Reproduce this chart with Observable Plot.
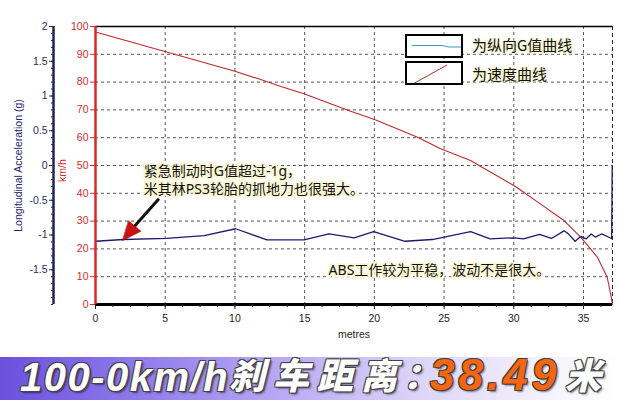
<!DOCTYPE html>
<html><head><meta charset="utf-8">
<script src="https://cdn.jsdelivr.net/npm/d3@7"></script>
<script src="https://cdn.jsdelivr.net/npm/@observablehq/plot@0.6"></script>
<style>
body{margin:0;background:#fff;}
#wrap{position:relative;width:620px;height:400px;overflow:hidden;background:#fff;font-family:"Liberation Sans",Arial,sans-serif;}
#chart svg{display:block;}
.lbox{position:absolute;left:405px;width:54px;height:20px;border:2px solid #000;background:#fff;}
.lbox svg{position:absolute;left:0;top:0;}
.ltext{position:absolute;left:472px;font-family:"Noto Sans CJK SC",sans-serif;font-size:15px;line-height:18px;color:#111;
  text-shadow:0 0 3px #f6f1c0,0 0 3px #f6f1c0,0 0 2px #f6f1c0;}
#banner{position:absolute;left:0;top:357px;width:620px;height:43px;
  background:linear-gradient(90deg,#6a50de 0%,#8f7aea 22%,#b7a9f3 45%,#dcd5f8 68%,#f4f2fb 88%,#ffffff 100%);
  white-space:nowrap;}
#banner div{position:absolute;font-style:italic;font-weight:bold;color:#fff;
  text-shadow:-1px -1px 0 #444,1px -1px 0 #444,-1px 1px 0 #444,1px 1px 0 #444,2px 2px 2px rgba(0,0,0,.5);}
#banner .w{left:20px;top:0px;line-height:40px;font-family:"Liberation Sans",Arial,sans-serif;font-size:40px;letter-spacing:1.5px;}
#banner .c{top:-2px;line-height:36px;font-family:"Noto Sans CJK SC",sans-serif;font-size:36px;font-weight:900;letter-spacing:8px;}
#banner .o{left:430px;top:-4px;line-height:44px;font-family:"Liberation Sans",Arial,sans-serif;font-size:44px;color:#f7650f;letter-spacing:4px;}
</style></head><body>
<div id="wrap">
  <div id="chart"></div>
  <div class="lbox" style="top:34px"><svg width="54" height="20"><polyline points="5,9.5 35,9.5 42,11 54,11" fill="none" stroke="#3a98cc" stroke-width="1"/></svg></div>
  <div class="lbox" style="top:61px"><svg width="54" height="20"><line x1="4" y1="22" x2="40" y2="2" stroke="#b42a2a" stroke-width="1"/></svg></div>
  <div class="ltext" style="top:36px">为纵向G值曲线</div>
  <div class="ltext" style="top:65px">为速度曲线</div>
  <div id="banner">
    <div class="w">100-0km/h</div>
    <div class="c" style="left:229px">刹车距离</div>
    <div class="c" style="left:403px;letter-spacing:-13px">：</div>
    <div class="o">38.49</div>
    <div class="c" style="left:565px;letter-spacing:0">米</div>
  </div>
</div>
<script>
// Longitudinal acceleration (g) vs distance (m)
const gDist   = [0, 2.0, 5.1, 7.8, 10.05, 12.3, 14.95, 16.75, 18.55, 19.95, 22.2, 24.15, 26.9, 28.3, 30.0, 30.7, 31.85, 32.7, 33.6, 33.9, 34.4, 34.8, 35.2, 35.55, 35.85, 36.3, 36.9, 37.02, 37.06];
const gValues = [-1.09, -1.065, -1.05, -1.01, -0.91, -1.07, -1.07, -0.985, -1.04, -0.95, -1.09, -1.065, -0.95, -1.055, -1.04, -1.055, -0.99, -1.05, -0.94, -0.98, -1.09, -1.02, -1.055, -0.985, -1.03, -0.985, -1.04, -1.05, 0.0];
// Speed (km/h) vs distance (m)
const speedDist   = [0, 5.1, 10, 11.85, 13.3, 14.95, 18.05, 20.1, 23.1, 24.75, 26.9, 30.2, 31.9, 33.6, 34.8, 36.0, 36.7, 37.0, 37.08];
const speedValues = [98, 90.8, 83.9, 80.9, 78.4, 75.8, 70, 66.4, 60.2, 56, 51.8, 42.2, 36.2, 30.2, 24.2, 17, 9.8, 2.5, 0];
// ticks
const xTicks = [0, 5, 10, 15, 20, 25, 30, 35];
const xMinorTicks = d3.range(0, 37.01, 1.25);
const kmhTicks = [0, 10, 20, 30, 40, 50, 60, 70, 80, 90, 100];
const gTickLabels = [2, 1.5, 1, 0.5, 0, -0.5, -1, -1.5];
const gMinorTicks = d3.range(-20, 21, 1).map(d => d / 10);
const xMax = 37.08;

const toKmh = g => (g + 2) * 25;   // g axis [-2,2] shares the frame with km/h [0,100]
const toG = k => k / 25 - 2;

const gData = gDist.map((d, i) => ({x: d, g: gValues[i]}));
const speedData = speedDist.map((d, i) => ({x: d, v: speedValues[i]}));

const notes = [
  {x: 3.46, y: 47.95, t: "紧急制动时G值超过-1g，"},
  {x: 3.46, y: 41.4, t: "米其林PS3轮胎的抓地力也很强大。"},
  {x: 16.72, y: 12.4, t: "ABS工作较为平稳，波动不是很大。"}
];
const arrowShaft = [{x1: 4.55, y1: 38.0, x2: 2.75, y2: 27.9}];
const arrowHead = [{x: 1.94, y: 23.0}];

const navy = "#22225e", red = "#d42a2a";
const triangle = {draw(ctx, l, r) { ctx.moveTo(0, 0); ctx.lineTo(-r, l); ctx.lineTo(r, l); ctx.closePath(); }};

const chart = Plot.plot({
  width: 620, height: 357,
  marginLeft: 95, marginRight: 8, marginTop: 26, marginBottom: 53,
  x: {domain: [0, xMax]},
  y: {domain: [0, 100]},
  style: {fontFamily: "'Liberation Sans', Arial, sans-serif", fontSize: "10.5px", background: "transparent"},
  marks: [
    Plot.ruleX(xTicks.filter(d => d > 0), {stroke: "#555", strokeDasharray: "3,3", strokeWidth: 1}),
    Plot.ruleY(kmhTicks.filter(d => d > 0 && d < 100), {stroke: "#555", strokeDasharray: "3,3", strokeWidth: 1}),
    Plot.ruleX([xMax], {stroke: "#223", strokeDasharray: "4,3", strokeWidth: 1}),
    Plot.ruleY([100], {stroke: "#000", strokeWidth: 1.5}),
    Plot.text(notes, {x: "x", y: "y", text: "t", textAnchor: "start", fontSize: 14,
      fontFamily: "'Noto Sans', 'Noto Sans CJK SC', sans-serif", fill: "#111", stroke: "#fcf8d6", strokeWidth: 4, strokeLinejoin: "round"}),
    Plot.line(speedData, {x: "x", y: "v", stroke: "#c0282d", strokeWidth: 1.1}),
    Plot.line(gData, {x: "x", y: d => toKmh(d.g), stroke: "#1c1c6e", strokeWidth: 1.3}),
    Plot.link(arrowShaft, {x1: "x1", y1: "y1", x2: "x2", y2: "y2", stroke: "#111", strokeWidth: 3}),
    Plot.vector(arrowHead, {x: "x", y: "y", length: 19, rotate: 220, anchor: "start", shape: triangle, r: 8, fill: "#cc1111", stroke: "#8a0000", strokeWidth: 0.5}),
    Plot.ruleY([0], {stroke: "#000", strokeWidth: 3}),
    Plot.ruleX([0], {stroke: red, strokeWidth: 2.5}),
    Plot.ruleX([0], {dx: -42, stroke: navy, strokeWidth: 2.5}),
    Plot.axisY(kmhTicks, {anchor: "left", tickSize: 5, tickPadding: 2, color: red, label: null}),
    Plot.axisY(gTickLabels.map(toKmh), {anchor: "left", dx: -42, tickSize: 4, tickPadding: 2, color: "#2c2c60", label: null,
      tickFormat: d => String(Math.round(toG(d) * 10) / 10)}),
    Plot.axisY(gMinorTicks.map(toKmh), {anchor: "left", dx: -42, tickSize: 2, color: navy, label: null, tickFormat: () => ""}),
    Plot.axisX(xTicks, {anchor: "bottom", tickSize: 5, tickPadding: 5, color: "#222", label: null}),
    Plot.axisX(xMinorTicks, {anchor: "bottom", tickSize: 3, color: "#222", label: null, tickFormat: () => ""}),
    Plot.text(["Longitudinal Acceleration (g)"], {text: d => d, frameAnchor: "left", textAnchor: "middle", dx: -77, rotate: -90, fill: "#24246a", fontSize: 10.5}),
    Plot.text(["km/h"], {text: d => d, frameAnchor: "left", textAnchor: "middle", dx: -33, dy: 5, rotate: -90, fill: red, fontSize: 10.5}),
    Plot.text(["metres"], {text: d => d, frameAnchor: "bottom", dy: 33, fill: "#222", fontSize: 10.5})
  ]
});
document.getElementById("chart").appendChild(chart);
</script>
</body></html>
